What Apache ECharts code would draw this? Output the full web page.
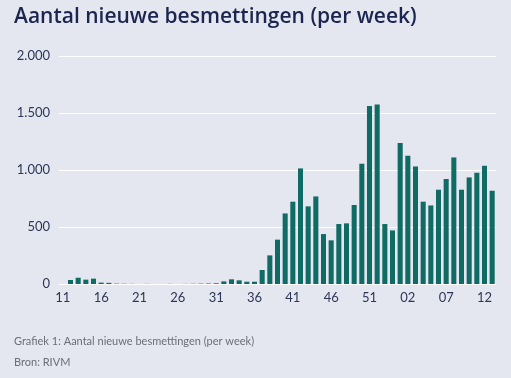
<!DOCTYPE html>
<html>
<head>
<meta charset="utf-8">
<script src="https://cdn.jsdelivr.net/npm/echarts@6/dist/echarts.min.js"></script>
<style>
html,body{margin:0;padding:0;background:#e4e7ef;}
#c{width:511px;height:378px;}
</style>
</head>
<body>
<div id="c"></div>
<script>
var weeks = ["11","12","13","14","15","16","17","18","19","20","21","22","23","24","25","26","27","28","29","30",
  "31","32","33","34","35","36","37","38","39","40","41","42","43","44","45","46","47","48","49","50",
  "51","52","53","53","01","02","03","04","05","06","07","08","09","10","11","12","13"];
var cases = [0,35,55,38,47,12,10,3,2,1,0,1,0,0,1,0,1,2,3,4,
  6,23,41,32,20,20,123,251,389,619,722,1014,681,768,438,383,526,532,693,1055,
  1561,1575,526,470,1237,1125,1031,722,689,827,921,1110,827,935,976,1037,818];
var yTicks = [0,500,1000,1500,2000];

function nl(v){ return String(v).replace(/\B(?=(\d{3})+(?!\d))/g,'.'); }

var chart = echarts.init(document.getElementById('c'), null, {renderer:'canvas'});
chart.setOption({
  backgroundColor:'#e4e7ef',
  animation:false,
  title:[
    {text:'Aantal nieuwe besmettingen (per week)', left:9, top:2,
     textStyle:{fontFamily:'Open Sans', fontWeight:600, fontSize:21, color:'#1b2550'}},
    {text:'Grafiek 1: Aantal nieuwe besmettingen (per week)', left:9, top:331,
     textStyle:{fontFamily:'Lato', fontWeight:'normal', fontSize:11, color:'#6a6e78'}},
    {text:'Bron: RIVM', left:9, top:352,
     textStyle:{fontFamily:'Lato', fontWeight:'normal', fontSize:11, color:'#6a6e78'}}
  ],
  grid:{left:59, right:15, top:56, bottom:94, containLabel:false},
  xAxis:{
    type:'category', data:weeks, boundaryGap:true,
    axisLine:{show:false}, axisTick:{show:false},
    axisLabel:{interval:4, color:'#2c3756', fontFamily:'Lato', fontSize:13, margin:7}
  },
  yAxis:{
    type:'value', min:yTicks[0], max:yTicks[yTicks.length-1], interval:500,
    axisLine:{show:false}, axisTick:{show:false},
    splitLine:{lineStyle:{color:'#ffffff', width:1}},
    axisLabel:{color:'#2c3756', fontFamily:'Lato', fontSize:13, margin:9,
      formatter:function(v){ return nl(v); }}
  },
  series:[{
    type:'bar', data:cases, barCategoryGap:'34%',
    itemStyle:{color:'#0f6b64'}
  }]
});
</script>
</body>
</html>
